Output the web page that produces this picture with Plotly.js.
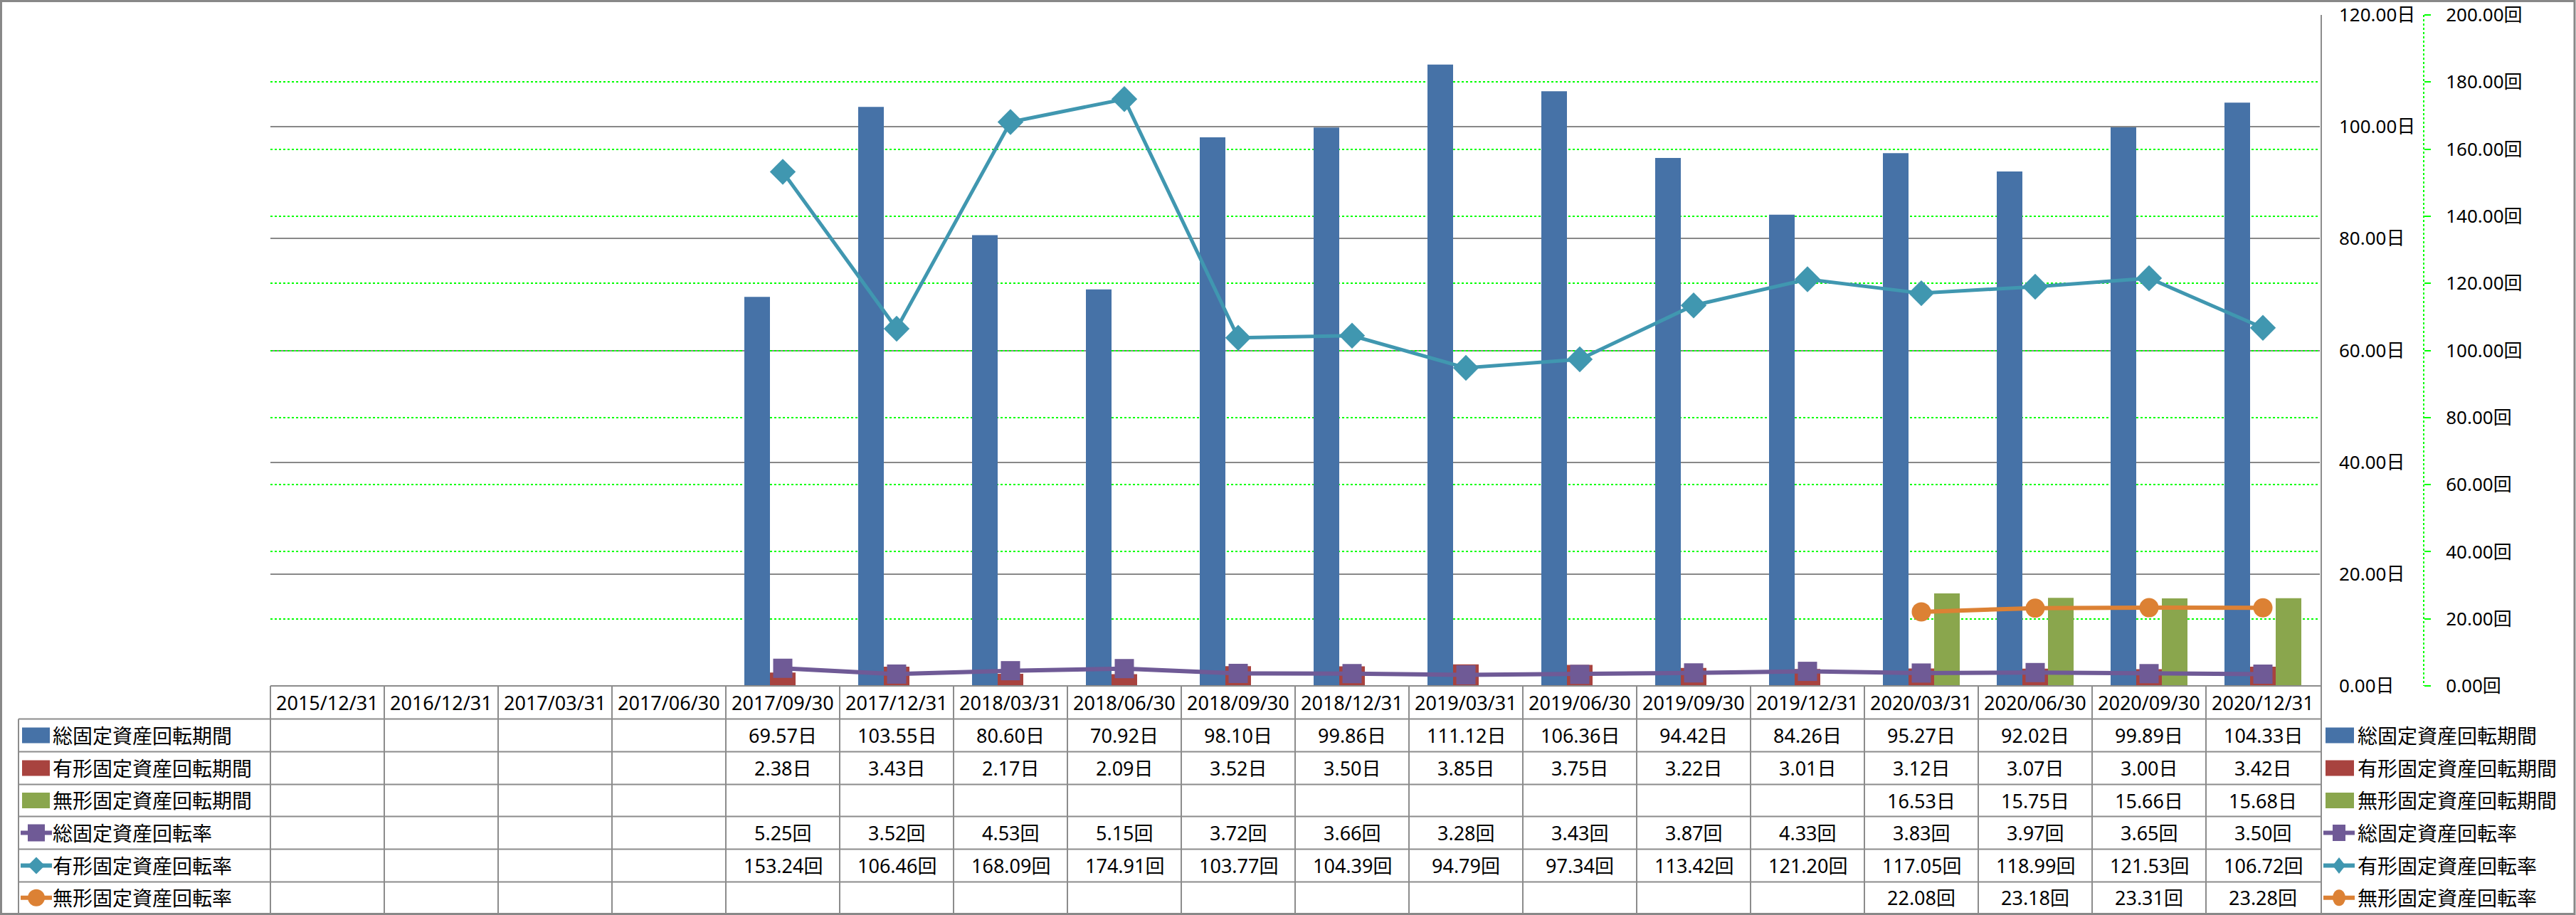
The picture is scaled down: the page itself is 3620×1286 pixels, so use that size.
<!DOCTYPE html>
<html><head><meta charset="utf-8">
<script src="https://cdn.plot.ly/plotly-3.0.1.min.js"></script>
<style>html,body{margin:0;padding:0;background:#fff}#chart{width:3620px;height:1286px}</style>
</head><body><div id="chart"></div>
<script>
// ---------- data ----------
const categories = ['2015/12/31','2016/12/31','2017/03/31','2017/06/30','2017/09/30','2017/12/31','2018/03/31','2018/06/30','2018/09/30','2018/12/31','2019/03/31','2019/06/30','2019/09/30','2019/12/31','2020/03/31','2020/06/30','2020/09/30','2020/12/31'];
const totalPeriod    = [null,null,null,null,69.57,103.55,80.60,70.92,98.10,99.86,111.12,106.36,94.42,84.26,95.27,92.02,99.89,104.33];
const tangiblePeriod = [null,null,null,null,2.38,3.43,2.17,2.09,3.52,3.50,3.85,3.75,3.22,3.01,3.12,3.07,3.00,3.42];
const intangiblePeriod = [null,null,null,null,null,null,null,null,null,null,null,null,null,null,16.53,15.75,15.66,15.68];
const totalTurnover    = [null,null,null,null,5.25,3.52,4.53,5.15,3.72,3.66,3.28,3.43,3.87,4.33,3.83,3.97,3.65,3.50];
const tangibleTurnover = [null,null,null,null,153.24,106.46,168.09,174.91,103.77,104.39,94.79,97.34,113.42,121.20,117.05,118.99,121.53,106.72];
const intangibleTurnover = [null,null,null,null,null,null,null,null,null,null,null,null,null,null,22.08,23.18,23.31,23.28];
const seriesNames = ['総固定資産回転期間','有形固定資産回転期間','無形固定資産回転期間','総固定資産回転率','有形固定資産回転率','無形固定資産回転率'];
const unitDays = '日', unitTimes = '回';

// ---------- layout helpers ----------
const W = 3620, H = 1286, ML = 380, MR = 20, MT = 21, MB = 322;
const PW = W - ML - MR, PH = H - MT - MB;
const px = X => (X - ML) / PW;
const py = Y => (H - MB - Y) / PH;

const colors = ['#4672A7','#A8433F','#8AA64D','#6F5A96','#4097B0','#DC8134'];
const FONT = 'Noto Sans, Noto Sans CJK JP, sans-serif';
const GREEN = '#00FF00';

const traces = [
  {type:'bar', x:categories, y:totalPeriod, name:seriesNames[0], marker:{color:colors[0]}, yaxis:'y'},
  {type:'bar', x:categories, y:tangiblePeriod, name:seriesNames[1], marker:{color:colors[1]}, yaxis:'y'},
  {type:'bar', x:categories, y:intangiblePeriod, name:seriesNames[2], marker:{color:colors[2]}, yaxis:'y'},
  {type:'scatter', mode:'lines+markers', x:categories, y:totalTurnover, name:seriesNames[3], yaxis:'y2',
   line:{color:colors[3], width:6}, marker:{symbol:'square', size:27, color:colors[3]}},
  {type:'scatter', mode:'lines+markers', x:categories, y:tangibleTurnover, name:seriesNames[4], yaxis:'y2',
   line:{color:colors[4], width:5}, marker:{symbol:'diamond', size:28, color:colors[4]}},
  {type:'scatter', mode:'lines+markers', x:categories, y:intangibleTurnover, name:seriesNames[5], yaxis:'y2',
   line:{color:colors[5], width:6}, marker:{symbol:'circle', size:27, color:colors[5]}}
];

// table geometry (pixels)
const rowEdges = [964, 1010.5, 1056.5, 1102.5, 1147.5, 1193.5, 1239.5, 1284];
const gridC = '#8C8C8C';
const shapes = [];
const annotations = [];

// outer frame
shapes.push({type:'rect', xref:'paper', yref:'paper', x0:px(1.5), x1:px(3618), y0:py(1.5), y1:py(1284.5), line:{color:'#888888', width:3}});
// table horizontal lines
shapes.push({type:'line', xref:'paper', yref:'paper', x0:px(380), x1:px(3262), y0:py(964), y1:py(964), line:{color:gridC, width:2}});
for (let r = 1; r < rowEdges.length - 1; r++) {
  shapes.push({type:'line', xref:'paper', yref:'paper', x0:px(26), x1:px(3262), y0:py(rowEdges[r]), y1:py(rowEdges[r]), line:{color:gridC, width:2}});
}
// table vertical lines
for (let k = 0; k < categories.length; k++) {
  const X = 380 + 160 * k;
  shapes.push({type:'line', xref:'paper', yref:'paper', x0:px(X), x1:px(X), y0:py(964), y1:py(1284), line:{color:gridC, width:2}});
}
shapes.push({type:'line', xref:'paper', yref:'paper', x0:px(3262), x1:px(3262), y0:py(21), y1:py(1284), line:{color:gridC, width:2}});
shapes.push({type:'line', xref:'paper', yref:'paper', x0:px(26), x1:px(26), y0:py(1010.5), y1:py(1284), line:{color:gridC, width:2}});
// secondary axis dashed line
shapes.push({type:'line', xref:'paper', yref:'paper', x0:px(3406), x1:px(3406), y0:py(21), y1:py(964), line:{color:GREEN, width:2, dash:'dot'}});

// header dates
categories.forEach((c, i) => {
  annotations.push({xref:'x', yref:'paper', x:i, y:py(987.5), text:c, showarrow:false, xanchor:'center', yanchor:'middle', font:{family:FONT, size:27, color:'#000'}});
});
// values
const allSeries = [totalPeriod, tangiblePeriod, intangiblePeriod, totalTurnover, tangibleTurnover, intangibleTurnover];
const units = [unitDays, unitDays, unitDays, unitTimes, unitTimes, unitTimes];
const rowCenter = r => (rowEdges[r + 1] + rowEdges[r + 2]) / 2;
allSeries.forEach((s, r) => {
  s.forEach((v, i) => {
    if (v === null) return;
    annotations.push({xref:'x', yref:'paper', x:i, y:py(rowCenter(r)), text:v.toFixed(2) + units[r], showarrow:false, xanchor:'center', yanchor:'middle', font:{family:FONT, size:27, color:'#000'}});
  });
});

// legend keys
const markerKinds = ['bar','bar','bar','square','diamond','circle'];
function addKey(r, lineX0, lineX1, rectX0, rectX1, mw, mh, textX) {
  const yc = rowCenter(r);
  const kind = markerKinds[r];
  const col = colors[r];
  if (kind === 'bar') {
    shapes.push({type:'rect', xref:'paper', yref:'paper', x0:px(rectX0), x1:px(rectX1), y0:py(yc - 11), y1:py(yc + 11), line:{width:0}, fillcolor:col});
  } else {
    shapes.push({type:'line', xref:'paper', yref:'paper', x0:px(lineX0), x1:px(lineX1), y0:py(yc), y1:py(yc), line:{color:col, width:6}});
    const xc = (lineX0 + lineX1) / 2;
    if (kind === 'square') {
      shapes.push({type:'rect', xref:'paper', yref:'paper', x0:px(xc - mw/2), x1:px(xc + mw/2), y0:py(yc - mh/2), y1:py(yc + mh/2), line:{width:0}, fillcolor:col});
    } else if (kind === 'circle') {
      shapes.push({type:'circle', xref:'paper', yref:'paper', x0:px(xc - mw/2), x1:px(xc + mw/2), y0:py(yc - mh/2), y1:py(yc + mh/2), line:{width:0}, fillcolor:col});
    } else {
      const p = 'M' + px(xc - mw/2) + ',' + py(yc) + ' L' + px(xc) + ',' + py(yc - mh/2) + ' L' + px(xc + mw/2) + ',' + py(yc) + ' L' + px(xc) + ',' + py(yc + mh/2) + ' Z';
      shapes.push({type:'path', xref:'paper', yref:'paper', path:p, line:{width:0}, fillcolor:col});
    }
  }
  annotations.push({xref:'paper', yref:'paper', x:px(textX), y:py(yc), text:seriesNames[r], showarrow:false, xanchor:'left', yanchor:'middle', font:{family:FONT, size:28, color:'#000'}});
}
for (let r = 0; r < 6; r++) {
  addKey(r, 29, 73, 31, 70, 24, 24, 72);
  addKey(r, 3265, 3309, 3268, 3308, 18, 23, 3311);
}

const layout = {
  width: W, height: H,
  margin: {l:ML, r:MR, t:MT, b:MB, pad:0},
  paper_bgcolor:'#fff', plot_bgcolor:'rgba(0,0,0,0)',
  showlegend:false,
  barmode:'group', bargap:0.325, bargroupgap:0,
  font:{family:FONT, size:26, color:'#000'},
  xaxis:{type:'category', range:[-0.5, categories.length - 0.5], domain:[0, 2880 / PW], showticklabels:false, showgrid:false, zeroline:false, showline:false, ticks:''},
  yaxis:{range:[0,120], dtick:20, tick0:0, side:'right', tickformat:'.2f', ticksuffix:unitDays, showgrid:true, gridcolor:'#888888', gridwidth:2,
         zeroline:false, showline:false, ticks:'', ticklabelstandoff:26, tickfont:{family:FONT, size:26, color:'#000'}},
  yaxis2:{range:[0,200], dtick:20, tick0:0, overlaying:'y', side:'right', anchor:'free', position:px(3406), tickformat:'.2f', ticksuffix:unitTimes,
          showgrid:true, gridcolor:GREEN, gridwidth:2, griddash:'dot', zeroline:false, showline:false,
          ticks:'outside', ticklen:9, tickwidth:2, tickcolor:GREEN, ticklabelstandoff:16, tickfont:{family:FONT, size:26, color:'#000'}},
  shapes: shapes,
  annotations: annotations
};

Plotly.newPlot('chart', traces, layout, {staticPlot:true, displayModeBar:false});
</script>
</body></html>
